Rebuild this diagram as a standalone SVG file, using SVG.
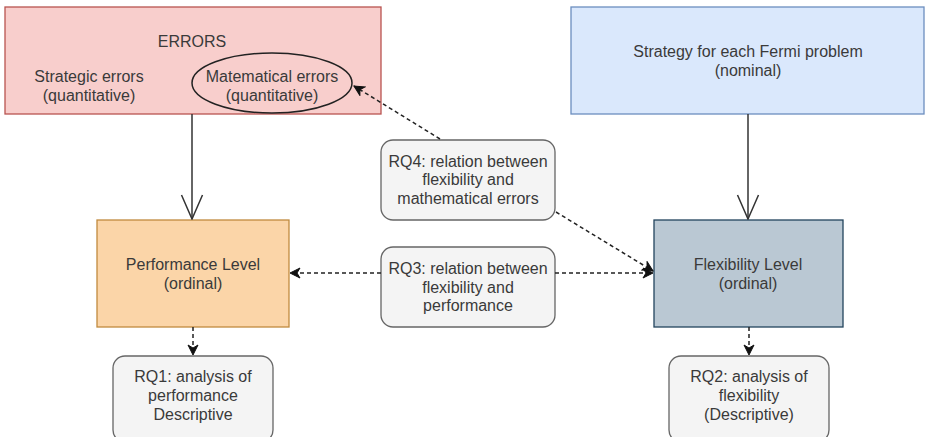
<svg xmlns="http://www.w3.org/2000/svg" width="925" height="437" viewBox="0 0 925 437">
<style>
text{font-family:"Liberation Sans",Arial,sans-serif;font-size:16px;fill:#3a3a3a;text-anchor:middle}
.rq{fill:#f4f4f4;stroke:#666;stroke-width:1.3}
.solid{stroke:#333;stroke-width:1.5;fill:none}
.dash{stroke:#222;stroke-width:1.5;fill:none;stroke-dasharray:4 3}
</style>
<defs>
<marker id="open" viewBox="0 0 26 24" refX="25" refY="12" markerWidth="26" markerHeight="24" markerUnits="userSpaceOnUse" orient="auto">
<path d="M1,1.5 L25,12 L1,22.5" fill="none" stroke="#333" stroke-width="1.5"/>
</marker>
<marker id="fill" viewBox="0 0 12 12" refX="11" refY="6" markerWidth="12" markerHeight="12" markerUnits="userSpaceOnUse" orient="auto">
<path d="M1,1 L11,6 L1,11 L4,6 Z" fill="#111" stroke="#111" stroke-width="1"/>
</marker>
</defs>
<rect width="925" height="437" fill="#fff"/>
<g id="errors">
<rect x="5" y="7" width="376" height="107" fill="#f8cecc" stroke="#b85450" stroke-width="1.3"/>
<text x="192" y="47">ERRORS</text>
<text x="89" y="82">Strategic errors</text>
<text x="89" y="101">(quantitative)</text>
<ellipse cx="272" cy="83" rx="80" ry="30" fill="none" stroke="#222" stroke-width="1.5"/>
<text x="272" y="82">Matematical errors</text>
<text x="272" y="101">(quantitative)</text>
</g>
<g id="strategy">
<rect x="571" y="7" width="353" height="107" fill="#dae8fc" stroke="#6c8ebf" stroke-width="1.3"/>
<text x="748" y="57">Strategy for each Fermi problem</text>
<text x="748" y="76">(nominal)</text>
</g>
<g id="performance">
<rect x="97" y="220" width="192" height="107" fill="#fbd5a8" stroke="#c08a3e" stroke-width="1.3"/>
<text x="193" y="270">Performance Level</text>
<text x="193" y="289">(ordinal)</text>
</g>
<g id="flexibility">
<rect x="654" y="220" width="189" height="107" fill="#bac8d3" stroke="#23445d" stroke-width="1.3"/>
<text x="748" y="270">Flexibility Level</text>
<text x="748" y="289">(ordinal)</text>
</g>
<g id="rq4">
<rect class="rq" x="381" y="140" width="174" height="80" rx="12"/>
<text x="468" y="167">RQ4: relation between</text>
<text x="468" y="185">flexibility and</text>
<text x="468" y="204">mathematical errors</text>
</g>
<g id="rq3">
<rect class="rq" x="381" y="247" width="174" height="80" rx="12"/>
<text x="468" y="274">RQ3: relation between</text>
<text x="468" y="293">flexibility and</text>
<text x="468" y="311">performance</text>
</g>
<g id="rq1">
<rect class="rq" x="113" y="356" width="160" height="86" rx="12"/>
<text x="193" y="382">RQ1: analysis of</text>
<text x="193" y="401">performance</text>
<text x="193" y="420">Descriptive</text>
</g>
<g id="rq2">
<rect class="rq" x="669" y="356" width="160" height="86" rx="12"/>
<text x="749" y="382">RQ2: analysis of</text>
<text x="749" y="401">flexibility</text>
<text x="749" y="420">(Descriptive)</text>
</g>
<g id="connectors">
<path class="solid" d="M192,114 L192,219" marker-end="url(#open)"/>
<path class="solid" d="M748,114 L748,219" marker-end="url(#open)"/>
<path class="dash" d="M381,273 L290,273" marker-end="url(#fill)"/>
<path class="dash" d="M555,273 L653,273" marker-end="url(#fill)"/>
<path class="dash" d="M440,139 L354,86" marker-end="url(#fill)"/>
<path class="dash" d="M556,212 L653,271" marker-end="url(#fill)"/>
<path class="dash" d="M193,327 L193,355" marker-end="url(#fill)"/>
<path class="dash" d="M749,327 L749,355" marker-end="url(#fill)"/>
</g>
</svg>
